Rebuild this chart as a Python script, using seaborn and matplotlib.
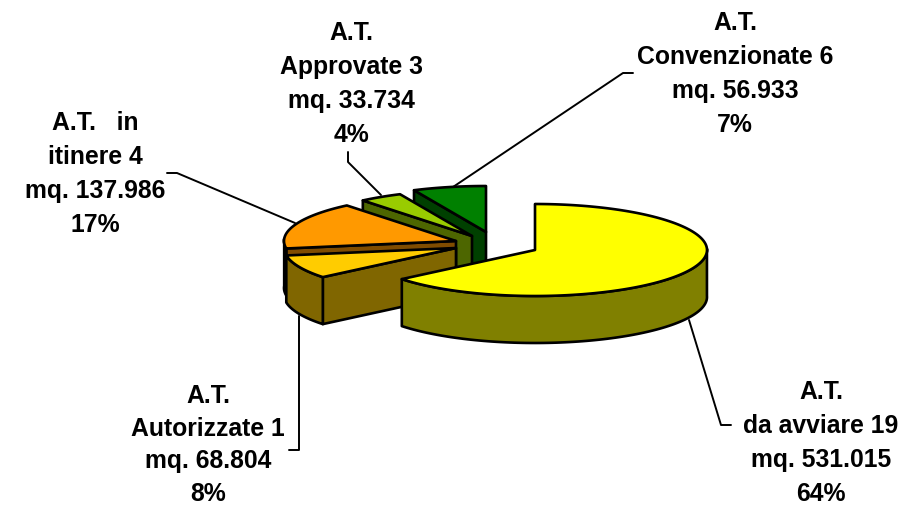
import numpy as np
import seaborn as sns
import matplotlib.pyplot as plt

labels = ["A.T.\nda avviare 19\nmq. 531.015\n64%",
          "A.T.\nAutorizzate 1\nmq. 68.804\n8%",
          "A.T.   in\nitinere 4\nmq. 137.986\n17%",
          "A.T.\nApprovate 3\nmq. 33.734\n4%",
          "A.T.\nConvenzionate 6\nmq. 56.933\n7%"]
areas = [531015, 68804, 137986, 33734, 56933]
top_colors = ["#FFFF00", "#FFCC00", "#FF9900", "#99CC00", "#008000"]
side_colors = ["#808000", "#806600", "#804C00", "#4D6600", "#004000"]

# centre of each exploded slice, in pixels
centers = [(535, 250), (456, 248), (456, 241), (472, 236), (486, 232)]
label_pos = [(821, 443), (208, 445), (95, 174), (351, 84), (735, 74)]
# the bottom label sits tight against the figure edge
label_spacing = [1.53, 1.45, 1.53, 1.53, 1.53]
leaders = [[(689, 320), (721, 425), (731, 425)],
           [(299, 316), (299, 450), (289, 450)],
           [(295, 223), (177, 173), (167, 173)],
           [(381, 195), (348, 162), (348, 152)],
           [(453, 187), (623, 73), (633, 73)]]

rx, ry, depth = 172, 46, 47

sns.set_style("white")
plt.rcParams['font.family'] = ['Liberation Sans', 'DejaVu Sans']

fig, ax = plt.subplots(figsize=(9.06, 5.07), dpi=100)
ax.set_position([0, 0, 1, 1])
ax.set_xlim(0, 906)
ax.set_ylim(507, 0)
ax.axis("off")


def rim(cx, cy, a0, a1):
    a = np.radians(np.linspace(a0, a1, 160))
    return cx + rx * np.sin(a), cy - ry * np.cos(a)


def face(xs, ys, color):
    px = np.concatenate([xs, xs[::-1]])
    py = np.concatenate([ys, ys[::-1] + depth])
    ax.fill(px, py, facecolor=color, edgecolor="black", lw=1.9, joinstyle="round")


# slices clockwise from 12 o'clock, painted back to front
edges = np.concatenate([[0], np.cumsum(areas)]) / sum(areas) * 360
for i in [4, 3, 2, 1, 0]:
    cx, cy = centers[i]
    a0, a1 = edges[i], edges[i + 1]
    xs, ys = rim(cx, cy, a0, a1)
    # only the cut faces turned towards the viewer
    if np.sin(np.radians(a0)) < -1e-6:
        face(np.array([cx, xs[0]]), np.array([cy, ys[0]]), side_colors[i])
    if np.sin(np.radians(a1)) > 1e-6:
        face(np.array([cx, xs[-1]]), np.array([cy, ys[-1]]), side_colors[i])
    front = np.cos(np.radians(np.linspace(a0, a1, 160))) < 0.05
    if front.any():
        face(xs[front], ys[front], side_colors[i])
    ax.fill(np.r_[cx, xs], np.r_[cy, ys], facecolor=top_colors[i], edgecolor="black",
            lw=1.9, joinstyle="round")

for pts, (tx, ty), lab, sp in zip(leaders, label_pos, labels, label_spacing):
    ax.plot(*zip(*pts), color="black", lw=1.4, zorder=5)
    ax.text(tx, ty, lab, ha="center", va="center", fontsize=17.8, fontweight="bold",
            linespacing=sp, color="black", zorder=6)

fig.savefig("out.png", dpi=100)
